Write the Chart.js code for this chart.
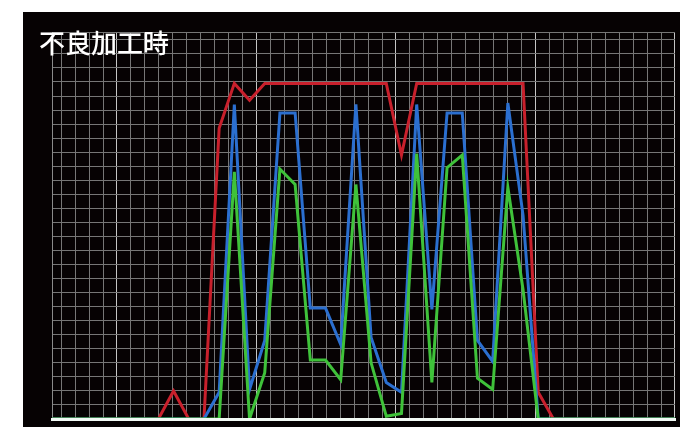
<!DOCTYPE html>
<html>
<head>
<meta charset="utf-8">
<script src="https://cdn.jsdelivr.net/npm/chart.js@4.4.1/dist/chart.umd.min.js"></script>
<style>
  html, body { margin: 0; padding: 0; background: #fff; width: 680px; height: 427px; overflow: hidden; }
  #painel { position: absolute; left: 23px; top: 12px; width: 657px; height: 415px; background: #060203; }
  #meu_grafico { position: absolute; left: 0; top: 0; }
  #titulo { position: absolute; left: 16px; top: 17px; color: #fff; font-family: "Noto Sans CJK JP", "Noto Sans CJK SC", sans-serif; font-size: 26px; line-height: 26px; font-weight: 500; white-space: nowrap; }
</style>
</head>
<body>
<div id="painel">
  <canvas id="meu_grafico" width="657" height="415"></canvas>
  <div id="titulo">不良加工時</div>
</div>
<script>
// amostras (eixo x, sem rotulos visiveis)
const amostras = [0,1,2,3,4,5,6,7,8,9,10,11,12,13,14,15,16,17,18,19,20,
                  21,22,23,24,25,26,27,28,29,30,31,32,33,34,35,36,37,38,39,40,41];

// valores (em quadradinhos da grade)
const vermelho = [0,0,0,0,0,0,0,0,2.0,0,0,20.7,23.9,22.7,23.9,23.9,23.9,23.9,23.9,23.9,23.9,
                  23.9,23.9,18.8,23.9,23.9,23.9,23.9,23.9,23.9,23.9,23.9,1.9,0,0,0,0,0,0,0,0,0];
const azul     = [0,0,0,0,0,0,0,0,0,0,0,1.9,22.4,2.1,5.6,21.8,21.8,7.9,7.9,5.3,22.4,
                  5.8,2.6,1.9,22.4,7.8,21.8,21.8,5.6,4.1,22.5,14.5,0,0,0,0,0,0,0,0,0,0];
const verde    = [0,0,0,0,0,0,0,0,0,0,0,0,17.6,0,3.3,17.8,16.7,4.2,4.2,2.8,16.7,
                  4.0,0.2,0.4,18.9,2.6,17.9,18.8,2.9,2.1,16.5,9.2,0,0,0,0,0,0,0,0,0,0];

const xMax = 41;
const yMax = 27.56;

// linhas da grade (a grade nao coincide com as amostras)
const passoGradeX = 0.918;
const inicioGradeX = 0.605;

const ctx = document.getElementById('meu_grafico').getContext('2d');
const grafico = new Chart(ctx, {
    type: 'line',
    data: {
        labels: amostras,
        datasets: [
            { label: 'verde', data: verde, borderColor: '#3fc23a', borderWidth: 3 },
            { label: 'azul', data: azul, borderColor: '#2b6fd0', borderWidth: 3 },
            { label: 'vermelho', data: vermelho, borderColor: '#c8202c', borderWidth: 3 },
        ]
    },
    options: {
        responsive: false,
        animation: false,
        layout: { padding: { left: 29, right: 5, top: 20, bottom: 8 } },
        elements: { point: { radius: 0 }, line: { tension: 0, fill: false } },
        plugins: { legend: { display: false }, tooltip: { enabled: false } },
        scales: {
            x: {
                type: 'linear',
                min: 0,
                max: xMax,
                ticks: { display: false },
                afterBuildTicks: (escala) => {
                    const t = [];
                    for (let k = 0; k <= 44; k++) t.push({ value: Math.min(inicioGradeX + k * passoGradeX, xMax) });
                    escala.ticks = t;
                },
                grid: {
                    drawTicks: false,
                    color: (c) => ((c.index - 4) % 10 === 0 ? '#c4c4c4' : '#767676'),
                    lineWidth: 1
                },
                border: { display: true, color: '#f2faf5', width: 3, z: 1 }
            },
            y: {
                min: 0,
                max: yMax,
                ticks: { display: false },
                afterBuildTicks: (escala) => {
                    const t = [];
                    for (let k = 0; k <= 27; k++) t.push({ value: k });
                    t.push({ value: yMax });
                    escala.ticks = t;
                },
                grid: { drawTicks: false, color: '#767676', lineWidth: 1 },
                border: { display: true, color: '#8a8a8a', width: 1 }
            }
        }
    }
});
</script>
</body>
</html>
